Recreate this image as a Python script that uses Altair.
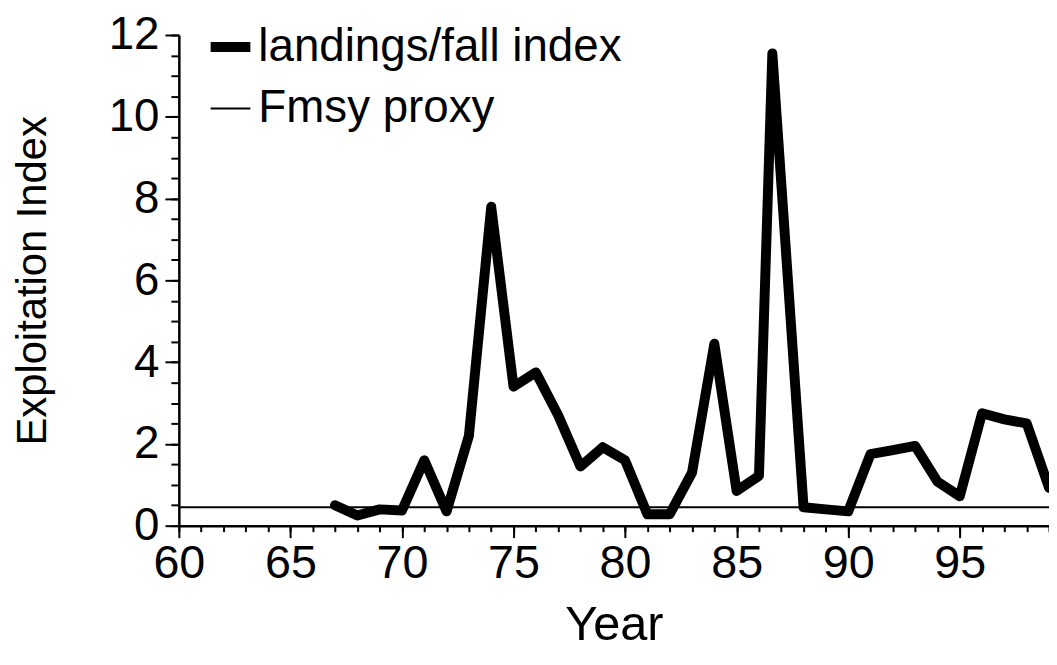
import altair as alt
import pandas as pd

# ---- data ----
years = [67, 68, 69, 70, 71, 72, 73, 74, 75, 76, 77, 78, 79, 80, 81, 82, 83,
         84, 85, 86, 86.6, 88, 89, 90, 91, 92, 93, 94, 95, 96, 97, 98, 99]
landings = [0.5, 0.25, 0.4, 0.37, 1.6, 0.35, 2.2, 7.8, 3.4, 3.75, 2.7, 1.45,
            1.92, 1.6, 0.28, 0.28, 1.3, 4.45, 0.85, 1.22, 11.55, 0.45, 0.4,
            0.35, 1.75, 1.85, 1.95, 1.08, 0.72, 2.75, 2.6, 2.5, 0.93]
fmsy_years = [60, 99]
fmsy_values = [0.45, 0.45]
series_names = ["landings/fall index", "Fmsy proxy"]

x_major = [60, 65, 70, 75, 80, 85, 90, 95]
x_minor = list(range(60, 100))
y_major = [0, 2, 4, 6, 8, 10, 12]
y_minor = [i / 2 for i in range(0, 25)]

FONT = "Liberation Sans"

df_land = pd.DataFrame({"Year": years, "value": landings, "series": series_names[0]})
df_fmsy = pd.DataFrame({"Year": fmsy_years, "value": fmsy_values, "series": series_names[1]})

xscale = alt.Scale(domain=[60, 99], nice=False, zero=False)
yscale = alt.Scale(domain=[0, 12], nice=False, zero=True)
swidth = alt.StrokeWidth(
    "series:N",
    scale=alt.Scale(domain=series_names, range=[10, 2]),
    legend=alt.Legend(
        title=None, orient="none", legendX=27, legendY=-13,
        symbolType="stroke", symbolSize=1600, symbolStrokeColor="black",
        labelFont=FONT, labelFontSize=46, labelColor="black",
        labelOffset=3, rowPadding=16, padding=0, labelLimit=600,
    ),
)

major = alt.Chart(df_land).mark_line(
    color="black", strokeJoin="round", strokeCap="round"
).encode(
    x=alt.X("Year:Q", scale=xscale,
            axis=alt.Axis(values=x_major, orient="bottom", title="Year",
                          tickSize=12, tickWidth=2, domainWidth=2.5,
                          domainColor="black", tickColor="black",
                          labelFont=FONT, labelFontSize=47, labelColor="black",
                          labelPadding=3, labelFlush=False,
                          titleFont=FONT, titleFontSize=49, titleFontWeight="normal",
                          titleColor="black", titlePadding=15, grid=False)),
    y=alt.Y("value:Q", scale=yscale,
            axis=alt.Axis(values=y_major, orient="left", title="Exploitation Index",
                          tickSize=14, tickWidth=2, domainWidth=2.5,
                          domainColor="black", tickColor="black",
                          labelFont=FONT, labelFontSize=46, labelColor="black",
                          labelPadding=6, labelFlush=False,
                          titleFont=FONT, titleFontSize=42, titleFontWeight="normal",
                          titleColor="black", titlePadding=54, grid=False)),
    strokeWidth=swidth,
)

minor = alt.Chart(df_fmsy).mark_line(color="black").encode(
    x=alt.X("Year:Q", scale=xscale,
            axis=alt.Axis(values=x_minor, orient="bottom", title="",
                          tickSize=6, tickWidth=2, labels=False, domain=False,
                          tickColor="black", grid=False)),
    y=alt.Y("value:Q", scale=yscale,
            axis=alt.Axis(values=y_minor, orient="left", title="",
                          tickSize=8, tickWidth=2, labels=False, domain=False,
                          tickColor="black", grid=False)),
    strokeWidth=swidth,
)

chart = alt.layer(minor, major).resolve_axis(x="independent", y="independent").properties(
    width=876, height=494,
    autosize=alt.AutoSizeParams(type="none"),
    padding={"left": 172, "top": 25, "right": 0, "bottom": 130},
    background="white",
).configure_view(stroke=None)

chart.save("out.html", embed_options={"renderer": "svg", "actions": False})
